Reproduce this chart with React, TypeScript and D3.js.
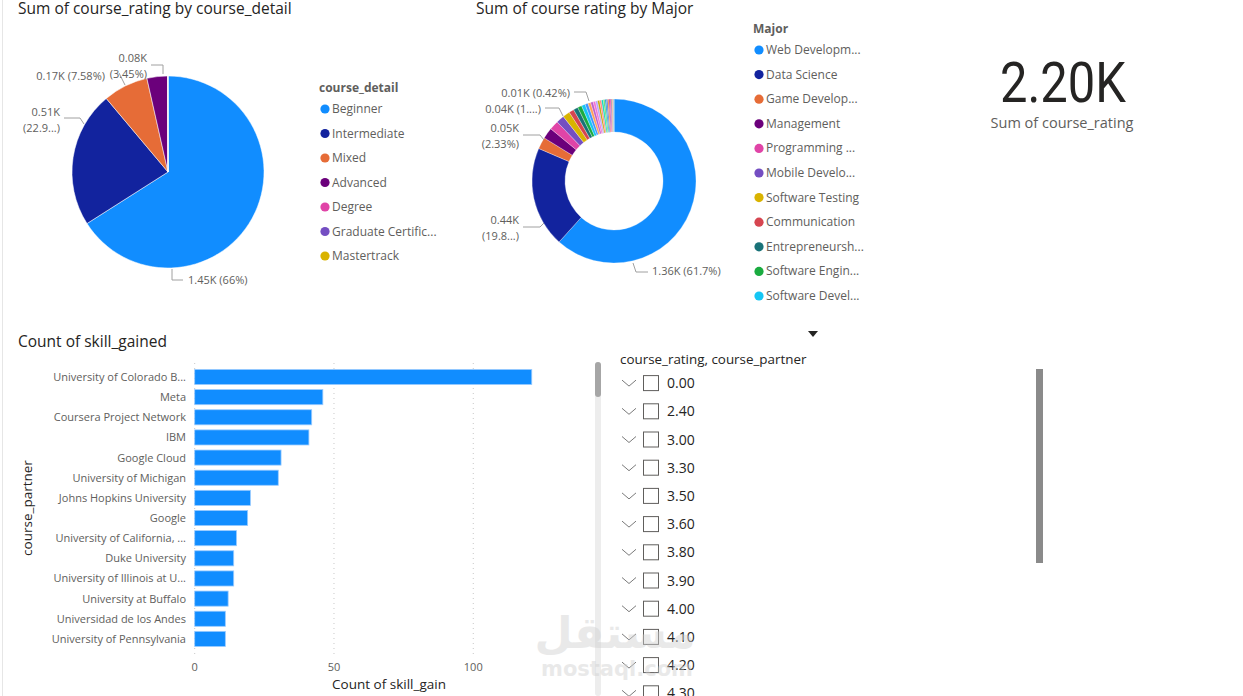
import React, { useEffect, useRef } from 'react';
import * as d3 from 'd3';

// course_detail pie
const detailNames = ['Beginner', 'Intermediate', 'Mixed', 'Advanced', 'Degree', 'Graduate Certificate', 'Mastertrack'];
const detailLegend = ['Beginner', 'Intermediate', 'Mixed', 'Advanced', 'Degree', 'Graduate Certific...', 'Mastertrack'];
const detailValues = [1452, 504, 167, 76, 0.9, 0.4, 0.3];

// Major donut
const majorNames = [
  'Web Development', 'Data Science', 'Game Development', 'Management', 'Programming Languages',
  'Mobile Development', 'Software Testing', 'Communication', 'Entrepreneurship', 'Software Engineering',
  'Software Development', 'Cloud Computing', 'Cybersecurity', 'Machine Learning', 'Artificial Intelligence',
  'Business Analysis', 'Database Administration', 'DevOps', 'UI/UX Design', 'Digital Marketing',
  'Networking', 'Project Management', 'Finance', 'Information Technology', 'Blockchain',
  'Game Design', 'Statistics', 'Computer Science', 'Data Engineering', 'Embedded Systems', 'Graphic Design',
];
const majorValues = [
  1357, 436, 51, 48, 40, 35, 31, 22, 20, 18, 16,
  13, 12, 11, 10, 9.3, 9, 8, 8, 7, 6, 6, 5, 4.5, 4, 3.5, 3, 2.5, 2, 1.5, 1,
];
const majorLegend = [
  'Web Developm...', 'Data Science', 'Game Develop...', 'Management', 'Programming ...',
  'Mobile Develo...', 'Software Testing', 'Communication', 'Entrepreneursh...', 'Software Engin...', 'Software Devel...',
];

// bar chart
const partners = [
  'University of Colorado B...', 'Meta', 'Coursera Project Network', 'IBM', 'Google Cloud',
  'University of Michigan', 'Johns Hopkins University', 'Google', 'University of California, ...',
  'Duke University', 'University of Illinois at U...', 'University at Buffalo',
  'Universidad de los Andes', 'University of Pennsylvania',
];
const skillCounts = [121, 46, 42, 41, 31, 30, 20, 19, 15, 14, 14, 12, 11, 11];
const xTicks = [0, 50, 100];

// slicer
const ratingOptions = ['0.00', '2.40', '3.00', '3.30', '3.50', '3.60', '3.80', '3.90', '4.00', '4.10', '4.20', '4.30'];

const palette = [
  '#118DFF', '#12239E', '#E66C37', '#6B007B', '#E044A7', '#744EC2', '#D9B300', '#D64550',
  '#197278', '#1AAB40', '#15C6F4', '#4092FF', '#FFA058', '#BE5DC9', '#F472D0', '#B5A1FF',
  '#C4A200', '#FF8080', '#00DBBC', '#5BD667', '#0091D5', '#4668C5', '#FF6300', '#99008A',
  '#EC008C', '#533285', '#99700A', '#FF4141', '#1F9A85', '#255A07', '#009DE5',
];

const W = 1243;
const H = 696;
const font = "'Segoe UI', 'Open Sans', sans-serif";
const dark = '#252423';
const grey = '#605E5C';

type Label = { lines: string[]; x: number; y: number; anchor: string; leader: [number, number][] };

export default function App() {
  const ref = useRef<SVGSVGElement>(null);

  useEffect(() => {
    if (!ref.current) return;
    const svg = d3.select(ref.current);
    svg.selectAll('*').remove();

    svg.append('rect').attr('width', W).attr('height', H).attr('fill', '#fff');
    svg.append('line').attr('x1', 2.5).attr('x2', 2.5).attr('y1', 0).attr('y2', H)
      .attr('stroke', '#E6E6E6').attr('stroke-width', 1);

    const title = (x: number, y: number, t: string) =>
      svg.append('text').attr('x', x).attr('y', y).attr('font-family', font).attr('font-size', 15.5)
        .attr('fill', dark).text(t);

    const legend = (x: number, y: number, step: number, head: string, items: string[]) => {
      const g = svg.append('g').attr('transform', `translate(${x},${y})`);
      g.append('text').attr('x', 0).attr('y', 4).attr('font-family', font).attr('font-size', 12)
        .attr('font-weight', 'bold').attr('fill', grey).text(head);
      items.forEach((t, i) => {
        const yy = 21 + i * step;
        g.append('circle').attr('cx', 6).attr('cy', yy).attr('r', 4.6).attr('fill', palette[i]);
        g.append('text').attr('x', 13).attr('y', yy + 4).attr('font-family', font).attr('font-size', 12)
          .attr('fill', grey).text(t);
      });
    };

    const drawLabels = (cx: number, cy: number, labels: Label[]) => {
      const g = svg.append('g').attr('transform', `translate(${cx},${cy})`);
      labels.forEach(l => {
        g.append('path').attr('d', d3.line()(l.leader)).attr('fill', 'none')
          .attr('stroke', '#A0A0A0').attr('stroke-width', 1);
        l.lines.forEach((s, i) => {
          g.append('text').attr('x', l.x).attr('y', l.y + i * 16 + 4).attr('text-anchor', l.anchor)
            .attr('font-family', font).attr('font-size', 11).attr('fill', grey).text(s);
        });
      });
    };

    const pie = d3.pie<number>().sort(null).value(d => d);

    // ---- Pie: course_detail
    title(18, 13.5, 'Sum of course_rating by course_detail');
    const arc1 = d3.arc<d3.PieArcDatum<number>>().innerRadius(0).outerRadius(96);
    const g1 = svg.append('g').attr('transform', 'translate(168,172)');
    g1.selectAll('path').data(pie(detailValues)).join('path')
      .attr('d', arc1).attr('fill', (_d, i) => palette[i]).attr('stroke', '#fff').attr('stroke-width', 0.5);
    drawLabels(168, 172, [
      { lines: ['1.45K (66%)'], x: 20, y: 108, anchor: 'start', leader: [[4, 97], [4, 108], [15, 108]] },
      { lines: ['0.51K', '(22.9...)'], x: -108, y: -60, anchor: 'end', leader: [[-104, -54], [-88, -54], [-84, -48]] },
      { lines: ['0.17K (7.58%)'], x: -63, y: -96, anchor: 'end', leader: [[-43, -87], [-49, -99]] },
      { lines: ['0.08K', '(3.45%)'], x: -21, y: -114, anchor: 'end', leader: [[-17, -107], [-5, -107], [-5, -98]] },
    ]);
    legend(319, 88, 24.5, 'course_detail', detailLegend);

    // ---- Donut: Major
    title(476, 13.5, 'Sum of course rating by Major');
    const arc2 = d3.arc<d3.PieArcDatum<number>>().innerRadius(49).outerRadius(82);
    const g2 = svg.append('g').attr('transform', 'translate(614,181)');
    g2.selectAll('path').data(pie(majorValues)).join('path')
      .attr('d', arc2).attr('fill', (_d, i) => palette[i % palette.length])
      .attr('stroke', '#fff').attr('stroke-width', 0.3);
    drawLabels(614, 181, [
      { lines: ['1.36K (61.7%)'], x: 38, y: 90, anchor: 'start', leader: [[19, 82], [22, 91], [34, 91]] },
      { lines: ['0.44K', '(19.8...)'], x: -95, y: 39, anchor: 'end', leader: [[-91, 46], [-74, 46], [-70, 42]] },
      { lines: ['0.05K', '(2.33%)'], x: -95, y: -53, anchor: 'end', leader: [[-91, -46], [-74, -46], [-70, -41]] },
      { lines: ['0.04K (1....)'], x: -73, y: -72, anchor: 'end', leader: [[-69, -73], [-55, -73], [-51, -65]] },
      { lines: ['0.01K (0.42%)'], x: -44, y: -88, anchor: 'end', leader: [[-40, -89], [-28, -89], [-25, -80]] },
    ]);
    legend(753, 29, 24.6, 'Major', majorLegend);

    // ---- KPI card
    svg.append('text').attr('x', 1063).attr('y', 102).attr('text-anchor', 'middle')
      .attr('font-family', "'DIN', 'Roboto', sans-serif").attr('font-size', 55).attr('fill', dark)
      .attr('textLength', 126).attr('lengthAdjust', 'spacingAndGlyphs').text('2.20K');
    svg.append('text').attr('x', 1062).attr('y', 128).attr('text-anchor', 'middle')
      .attr('font-family', font).attr('font-size', 14.5).attr('fill', grey).text('Sum of course_rating');

    // ---- Bar chart
    title(18, 346.5, 'Count of skill_gained');
    const x = d3.scaleLinear().domain([0, 139.5]).range([194.7, 583.3]);
    const y = d3.scaleBand().domain(partners).range([364.4, 651.5]).paddingInner(0.25).paddingOuter(0.25);
    const gb = svg.append('g');
    gb.selectAll('line.grid').data(xTicks).join('line').attr('class', 'grid')
      .attr('x1', d => x(d)).attr('x2', d => x(d)).attr('y1', 363).attr('y2', 658)
      .attr('stroke', '#C8C8C8').attr('stroke-dasharray', '1,4');
    gb.selectAll('rect').data(partners).join('rect')
      .attr('x', x(0)).attr('y', d => y(d)!).attr('height', y.bandwidth())
      .attr('width', (_d, i) => x(skillCounts[i]) - x(0)).attr('fill', '#118DFF')
      .attr('stroke', '#9ACBFF').attr('stroke-width', 0.8);
    gb.selectAll('text.cat').data(partners).join('text').attr('class', 'cat')
      .attr('x', 186).attr('y', d => y(d)! + y.bandwidth() / 2 + 4).attr('text-anchor', 'end')
      .attr('font-family', font).attr('font-size', 11).attr('fill', grey).text(d => d);
    gb.selectAll('text.tick').data(xTicks).join('text').attr('class', 'tick')
      .attr('x', d => x(d)).attr('y', 671).attr('text-anchor', 'middle')
      .attr('font-family', font).attr('font-size', 11).attr('fill', grey).text(d => d);
    svg.append('text').attr('x', 389).attr('y', 689).attr('text-anchor', 'middle')
      .attr('font-family', font).attr('font-size', 13.5).attr('fill', dark).text('Count of skill_gain');
    svg.append('text').attr('transform', 'translate(32,508) rotate(-90)').attr('text-anchor', 'middle')
      .attr('font-family', font).attr('font-size', 13.5).attr('fill', dark).text('course_partner');

    // scrollbar beside bar chart
    svg.append('rect').attr('x', 595).attr('y', 362).attr('width', 6).attr('height', 334)
      .attr('rx', 3).attr('fill', '#EDEDED');
    svg.append('rect').attr('x', 595).attr('y', 362).attr('width', 6).attr('height', 35)
      .attr('rx', 3).attr('fill', '#A6A6A6');

    // ---- Slicer
    svg.append('path').attr('d', 'M808,331 L818,331 L813,337 Z').attr('fill', dark);
    svg.append('text').attr('x', 620).attr('y', 363.5).attr('font-family', font).attr('font-size', 13.4)
      .attr('fill', dark).text('course_rating, course_partner');
    const ry = d3.scaleBand().domain(ratingOptions).range([369, 369 + 28.2 * ratingOptions.length]);
    const rows = svg.append('g').selectAll('g').data(ratingOptions).join('g')
      .attr('transform', d => `translate(0,${ry(d)! + ry.bandwidth() / 2})`);
    rows.append('path').attr('d', 'M622,-3 L629,3 L636,-3').attr('fill', 'none')
      .attr('stroke', '#7A7A7A').attr('stroke-width', 1);
    rows.append('rect').attr('x', 643.5).attr('y', -7.5).attr('width', 15).attr('height', 15)
      .attr('fill', '#fff').attr('stroke', grey).attr('stroke-width', 1);
    rows.append('text').attr('x', 667).attr('y', 5).attr('font-family', font).attr('font-size', 14)
      .attr('fill', dark).text(d => d);
    svg.append('rect').attr('x', 1036).attr('y', 369).attr('width', 7).attr('height', 194).attr('fill', '#8A8A8A');

    // watermark
    svg.append('text').attr('x', 615).attr('y', 648).attr('text-anchor', 'middle')
      .attr('font-family', "'DejaVu Sans', sans-serif").attr('font-weight', 'bold').attr('font-size', 44)
      .attr('fill', '#D0D0D0').attr('opacity', 0.45).text('مستقل');
    svg.append('text').attr('x', 617).attr('y', 676).attr('text-anchor', 'middle')
      .attr('font-family', "'DejaVu Sans', sans-serif").attr('font-weight', 'bold').attr('font-size', 21)
      .attr('fill', '#D0D0D0').attr('opacity', 0.45).text('mostaql.com');
  }, []);

  return <svg ref={ref} width={W} height={H} style={{ position: 'absolute', left: 0, top: 0 }} />;
}
